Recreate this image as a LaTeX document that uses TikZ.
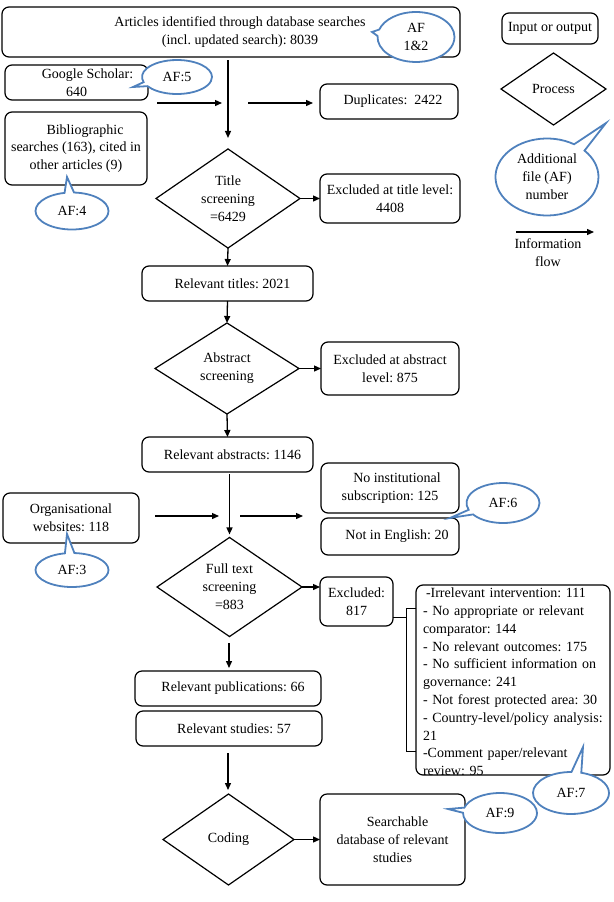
\documentclass[tikz,border=0pt]{standalone}
\usepackage{fontspec}
\setmainfont{Liberation Serif}
\usetikzlibrary{shapes.geometric,shapes.callouts,arrows.meta,calc}
\definecolor{afblue}{RGB}{79,129,189}
\begin{document}
\frenchspacing
\begin{tikzpicture}[x=1pt,y=-1pt,
  every node/.style={font=\fontsize{14}{17.8}\selectfont, inner sep=0pt, outer sep=0pt},
  box/.style={draw, rounded corners=7pt, line width=1.2pt, align=center},
  dia/.style={diamond, draw, line width=1.2pt, align=center},
  af/.style={ellipse callout, draw=afblue, line width=1.8pt, fill=white, align=center},
  flow/.style={line width=1.3pt, -{Triangle[length=7pt,width=6pt]}},
  plain/.style={line width=1pt}]
\useasboundingbox (0,0) rectangle (613,902);

% input/output boxes
\node[box, minimum width=458pt, minimum height=50pt] (top) at (231,32)
  {\hspace{18pt}Articles identified through database searches\\\hspace{18pt}(incl. updated search): 8039};
\node[box, minimum width=143pt, minimum height=35pt] (gs) at (76.5,82.5) {\hspace{22pt}Google Scholar:\\640};
\node[box, minimum width=142pt, minimum height=73pt] (bib) at (76,148.5)
  {\hspace{18pt}Bibliographic\\searches (163), cited in\\other articles (9)};
\node[box, minimum width=138pt, minimum height=35pt] (dup) at (389,101.5) {\hspace{8pt}Duplicates:\ \ 2422};
\node[box, minimum width=140pt, minimum height=49pt] (extitle) at (390,198.5) {Excluded at title level:\\4408};
\node[box, minimum width=171pt, minimum height=35pt] (reltitles) at (227.5,283.5) {\hspace{10pt}Relevant titles: 2021};
\node[box, minimum width=138pt, minimum height=53pt] (exabs) at (390,368.5) {Excluded at abstract\\level: 875};
\node[box, minimum width=171pt, minimum height=35pt] (relabs) at (227.5,454.5) {\hspace{10pt}Relevant abstracts: 1146};
\node[box, minimum width=136pt, minimum height=50pt] (org) at (71,518) {Organisational\\websites: 118};
\node[box, minimum width=138pt, minimum height=50pt] (noinst) at (390,488) {\hspace{14pt}No institutional\\subscription: 125};
\node[box, minimum width=138pt, minimum height=37pt] (noteng) at (390,536.5) {\hspace{14pt}Not in English: 20};
\node[box, minimum width=73pt, minimum height=49pt] (excl) at (356.5,601.5) {Excluded:\\817};
\node[box, minimum width=194pt, minimum height=190pt] (list) at (513,680) {};
\node[anchor=north west, align=left, text width=186pt] (listtxt) at (423,588)
  {\hspace{3pt}-Irrelevant intervention: 111\\
  - No appropriate or relevant\\ comparator: 144\\
  - No relevant outcomes: 175\\
  - No sufficient information on\\ governance: 241\\
  - Not forest protected area: 30\\
  - Country-level/policy analysis:\\ 21\\
  -Comment paper/relevant\\ review: 95};
\node[box, minimum width=186pt, minimum height=35pt] (pubs) at (228,688.5) {\hspace{10pt}Relevant publications: 66};
\node[box, minimum width=186pt, minimum height=35pt] (studies) at (229,728.5) {\hspace{10pt}Relevant studies: 57};
\node[box, minimum width=145pt, minimum height=91pt] (db) at (392.5,839.5) {\hspace{10pt}Searchable\\database of relevant\\studies};

% process diamonds
\node[dia, minimum width=144pt, minimum height=91pt] (title) at (228,198.5) {Title\\screening\\=6429};
\node[dia, minimum width=144pt, minimum height=91pt] (abs) at (227,368.5) {Abstract\\screening};
\node[dia, minimum width=145pt, minimum height=92pt] (full) at (229.5,587) {Full text\\screening\\=883};
\node[dia, minimum width=131pt, minimum height=91pt] (coding) at (228.5,839.5) {Coding};

% legend
\node[box, minimum width=96pt, minimum height=31pt] (legio) at (550,28.5) {Input or output};
\node[dia, minimum width=105pt, minimum height=72pt] (legproc) at (553.5,89) {Process};
\node[af, minimum width=103pt, minimum height=77pt, callout absolute pointer={(606,123)}] (legaf) at (547,177)
  {Additional\\file (AF)\\number};
\coordinate (lfs) at (516,232);
\coordinate (lfe) at (594,232);
\node[align=center] (legflow) at (548,253) {Information\\flow};

% connectors
\draw[flow, shorten <=3pt, shorten >=11pt] (title.north |- top.south) -- (title.north);
\coordinate (g1s) at (157,103); \coordinate (g1e) at (222,103);
\coordinate (g2s) at (248,103); \coordinate (g2e) at (313,103);
\draw[flow] (g1s) -- (g1e);
\draw[flow] (g2s) -- (g2e);
\draw[flow] (title.east) -- (extitle.west |- title.east);
\draw[flow] (title.south) -- (reltitles.north);
\draw[flow] (reltitles.south) -- (abs.north);
\draw[flow] (abs.east) -- (exabs.west |- abs.east);
\draw[flow] (abs.south) -- (relabs.north);
\draw[flow, shorten <=2pt, shorten >=3pt] (full.north |- relabs.south) -- (full.north);
\coordinate (o1s) at (155,516); \coordinate (o1e) at (219,516);
\coordinate (o2s) at (240,516); \coordinate (o2e) at (303,516);
\draw[flow] (o1s) -- (o1e);
\draw[flow] (o2s) -- (o2e);
\draw[flow] (full.east) -- (excl.west |- full.east);
\coordinate (bk) at (406,617);
\coordinate (bt) at (406,608);
\coordinate (bb) at (406,751);
\draw[plain] (excl.east |- bk) -- (bk);
\draw[plain] (list.west |- bt) -- (bt) -- (bb) -- (list.west |- bb);
\coordinate (fs) at (229,643);
\draw[flow, shorten >=3pt] (fs) -- (fs |- pubs.north);
\coordinate (ss) at (228,753);
\draw[flow, shorten >=4pt] (ss) -- (ss |- coding.north);
\draw[flow] (coding.east) -- (db.west);
\draw[flow] (lfs) -- (lfe);

% callouts
\node[af, minimum width=77pt, minimum height=50pt, callout absolute pointer={(372,32)}] (af12) at (416,37) {AF\\1\&2};
\node[af, minimum width=70pt, minimum height=34pt, callout absolute pointer={(133,87)}] (af5) at (177,77) {AF:5};
\node[af, minimum width=73pt, minimum height=37pt, callout absolute pointer={(67,177)}] (af4) at (72,211) {AF:4};
\node[af, minimum width=73pt, minimum height=34pt, callout absolute pointer={(67,534)}] (af3) at (72,570) {AF:3};
\node[af, minimum width=73pt, minimum height=40pt, callout absolute pointer={(450,518)}] (af6) at (503,503) {AF:6};
\node[af, minimum width=76pt, minimum height=42pt, callout absolute pointer={(583,747)}] (af7) at (571,793) {AF:7};
\node[af, minimum width=74pt, minimum height=40pt, callout absolute pointer={(448,809)}] (af9) at (500,813) {AF:9};
\end{tikzpicture}
\end{document}
